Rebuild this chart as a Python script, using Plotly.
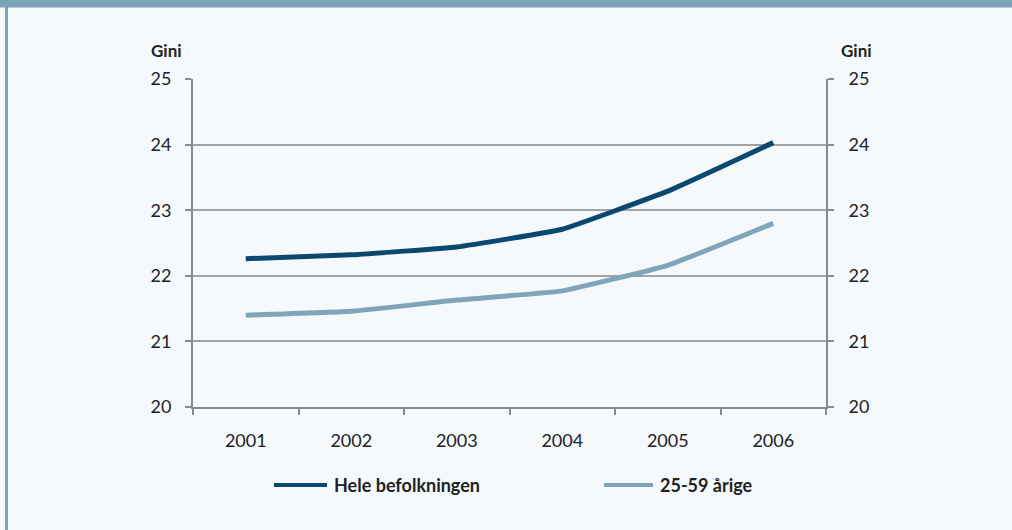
"""
Gini coefficient 2001-2006: whole population vs. 25-59 year olds.
"""

import plotly.graph_objects as go

YEARS = ["2001", "2002", "2003", "2004", "2005", "2006"]
HELE = [22.26, 22.32, 22.44, 22.71, 23.29, 24.03]
AARIGE = [21.40, 21.46, 21.63, 21.77, 22.16, 22.80]
Y_TICKS = [20, 21, 22, 23, 24, 25]
SERIES_NAMES = ["Hele befolkningen", "25-59 årige"]

W, H = 1012, 530
ML, MR, MT, MB = 193, 186, 79, 123
BG = "#f5f9fc"
FRAME = "#7ba3b8"
DARK = "#0b4870"
LIGHT = "#80a5bb"
AXIS = "#8a8a8a"
GRID = "#a3a3a3"
TXT = "#222222"
FONT = "Lato, 'Open Sans', sans-serif"

pw, ph = W - ML - MR, H - MT - MB


def px_x(x):
    return (x - ML) / pw


def px_y(y):
    return (H - MB - y) / ph


fig = go.Figure()
# the light series sits on the right-hand axis (same scale) so both axes get labels
for name, vals, col, yax in [(SERIES_NAMES[0], HELE, DARK, "y"),
                             (SERIES_NAMES[1], AARIGE, LIGHT, "y2")]:
    fig.add_trace(go.Scatter(
        x=YEARS, y=vals, name=name, mode="lines", yaxis=yax,
        line=dict(color=col, width=5, shape="spline", smoothing=0.3),
        showlegend=False,
    ))

axis_common = dict(
    range=[20, 25], tickvals=Y_TICKS, ticks="outside", ticklen=6,
    tickcolor=AXIS, tickwidth=2, showline=True, linecolor=AXIS, linewidth=2,
    tickfont=dict(family=FONT, size=18, color=TXT), zeroline=False,
)

fig.update_layout(
    width=W, height=H,
    margin=dict(l=ML, r=MR, t=MT, b=MB),
    paper_bgcolor=BG, plot_bgcolor=BG,
    showlegend=False,
    xaxis=dict(
        type="category", range=[-0.5, 5.5], tickson="boundaries",
        ticks="outside", ticklen=6, tickcolor=AXIS, tickwidth=2,
        showline=True, linecolor=AXIS, linewidth=2, showgrid=False,
        tickfont=dict(family=FONT, size=18, color=TXT), ticklabelstandoff=16,
    ),
    yaxis=dict(**axis_common, showgrid=True, gridcolor=GRID, gridwidth=2,
               ticklabelstandoff=10),
    yaxis2=dict(**axis_common, overlaying="y", side="right", showgrid=False,
                ticklabelstandoff=11),
)

# frame: header band and left strip
fig.add_shape(type="rect", xref="paper", yref="paper",
              x0=px_x(0), x1=px_x(W), y0=px_y(7.5), y1=px_y(0),
              fillcolor=FRAME, line_width=0, layer="below")
fig.add_shape(type="rect", xref="paper", yref="paper",
              x0=px_x(5), x1=px_x(8), y0=px_y(H), y1=px_y(0),
              fillcolor=FRAME, line_width=0, layer="below")

# axis titles
for xpos in (166, 856):
    fig.add_annotation(text="Gini", xref="paper", yref="paper",
                       x=px_x(xpos), y=px_y(50), xanchor="center", yanchor="middle",
                       showarrow=False,
                       font=dict(family=FONT, size=17, color=TXT, weight="bold"))

# legend drawn by hand to match the source layout
for (x0, x1, tx), name, col in zip([(274, 327, 332), (604, 653, 658)],
                                   SERIES_NAMES, [DARK, LIGHT]):
    fig.add_shape(type="line", xref="paper", yref="paper",
                  x0=px_x(x0), x1=px_x(x1), y0=px_y(485), y1=px_y(485),
                  line=dict(color=col, width=4))
    fig.add_annotation(text=name, xref="paper", yref="paper",
                       x=px_x(tx), y=px_y(485), xanchor="left", yanchor="middle",
                       showarrow=False,
                       font=dict(family=FONT, size=18, color=TXT, weight="bold"))

fig.write_html("out.html", config={"displayModeBar": False},
               post_script="document.body.style.margin = '0';")
